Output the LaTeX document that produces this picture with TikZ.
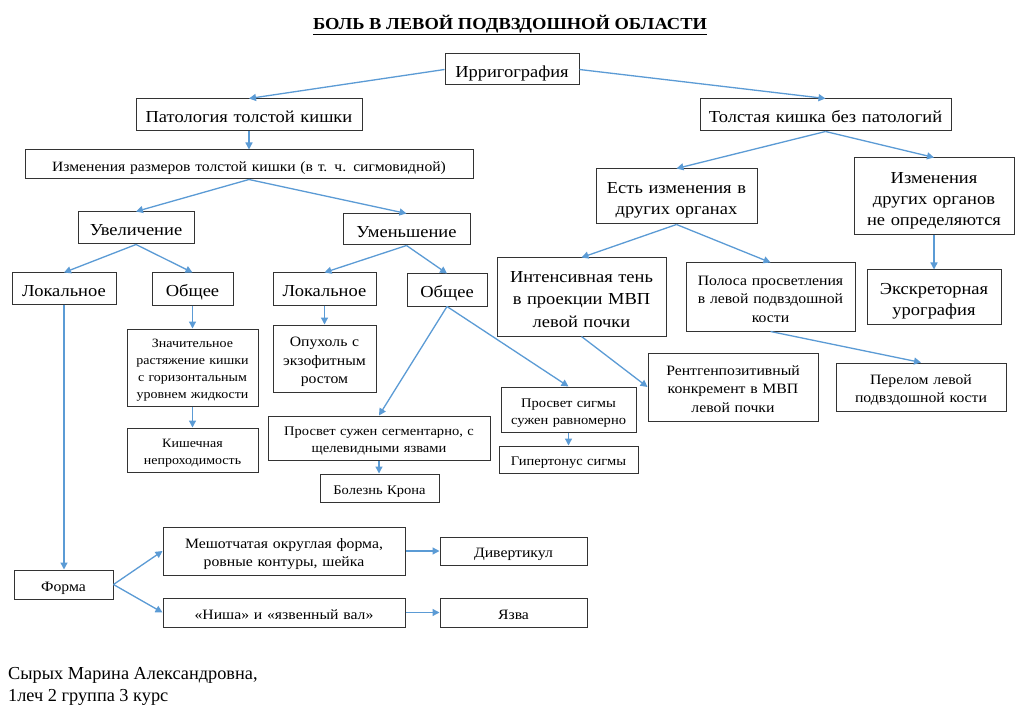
\documentclass[tikz,border=0pt]{standalone}
\usepackage{fontspec}
\setmainfont[FakeStretch=1.1]{Liberation Serif}
\newfontfamily\plainserif{Liberation Serif}
\usetikzlibrary{arrows.meta}
\definecolor{arrblue}{RGB}{91,155,213}
\newcommand{\fbig}{\fontsize{16.8}{21}\selectfont}
\newcommand{\fmid}{\fontsize{14.3}{18.5}\selectfont}
\newcommand{\fsml}{\fontsize{13.2}{17}\selectfont}
\begin{document}
\begin{tikzpicture}[x=1pt,y=-1pt,
	box/.style={draw=black!80,line width=1pt,inner sep=0pt,align=center,fill=white,
		execute at begin node={\rule{0pt}{1.14em}},
		execute at end node={\rule[-0.22em]{0pt}{0pt}}},
	sz/.style 2 args={minimum width=#1,minimum height=#2,text width=#1-8},
	arr/.style={draw=arrblue,line width=1.3pt,-{Triangle[length=7pt,width=7pt]}}]
	\useasboundingbox[fill=white] (0,0) rectangle (1024,708);
	\node[anchor=base] (title) at (510,29.5) {\fontsize{16.8}{20}\selectfont\textbf{\underline{БОЛЬ В ЛЕВОЙ ПОДВЗДОШНОЙ ОБЛАСТИ}}};
	% left branch
	\node[box,sz={134}{31},font=\fbig] (irr) at (512,69.5) {Ирригография};
	\node[box,sz={226}{32},font=\fbig] (pat) at (249,115) {Патология толстой кишки};
	\node[box,sz={448}{29},font=\fontsize{14.2}{17}\selectfont] (izm) at (249,164.5) {Изменения размеров толстой кишки (в т. ч. сигмовидной)};
	\node[box,sz={116}{32},font=\fbig] (uvel) at (136,228) {Увеличение};
	\node[box,sz={127}{31},font=\fbig] (umen) at (406.5,229.5) {Уменьшение};
	\node[box,sz={104}{31},font=\fbig] (lokL) at (64,288.5) {Локальное};
	\node[box,sz={81}{32},font=\fbig] (obL) at (192.5,289) {Общее};
	\node[box,sz={103}{32},font=\fbig] (lokR) at (324.5,289) {Локальное};
	\node[box,sz={80}{32},font=\fbig] (obR) at (447,290) {Общее};
	\node[box,sz={131}{77},font=\fontsize{12.7}{17}\selectfont] (znach) at (192.5,367.5) {Значительное\\растяжение кишки\\с горизонтальным\\уровнем жидкости};
	\node[box,sz={131}{44},font=\fontsize{12.7}{17}\selectfont] (kish) at (192.5,450) {Кишечная\\непроходимость};
	\node[box,sz={103}{67},font=\fmid] (opukh) at (324.5,358.5) {Опухоль с\\экзофитным\\ростом};
	\node[box,sz={222}{44},font=\fsml] (prosS) at (379,438) {Просвет сужен сегментарно, с\\щелевидными язвами};
	\node[box,sz={119}{28},font=\fsml] (krona) at (379.5,488) {Болезнь Крона};
	\node[box,sz={135}{45},font=\fsml] (prSig) at (568.5,409.5) {Просвет сигмы\\сужен равномерно};
	\node[box,sz={139}{27},font=\fsml] (giper) at (568.5,459.5) {Гипертонус сигмы};
	\node[box,sz={99}{29},font=\fmid] (forma) at (63.5,584.5) {Форма};
	\node[box,sz={242}{48},font=\fmid] (mesh) at (284,551) {Мешотчатая округлая форма,\\ровные контуры, шейка};
	\node[box,sz={242}{29},font=\fmid] (nisha) at (284,612.5) {«Ниша» и «язвенный вал»};
	\node[box,sz={147}{28},font=\fmid] (divert) at (513.5,551) {Дивертикул};
	\node[box,sz={147}{29},font=\fmid] (yazva) at (513.5,612.5) {Язва};
	% right branch
	\node[box,sz={251}{32},font=\fbig] (tolst) at (825.5,115) {Толстая кишка без патологий};
	\node[box,sz={161}{55},font=\fbig] (est) at (676.5,196.5) {Есть изменения в\\других органах};
	\node[box,sz={160}{77},font=\fbig] (drug) at (934,196.5) {Изменения\\других органов\\не определяются};
	\node[box,sz={169}{78},font=\fontsize{16.8}{22.5}\selectfont] (inten) at (581.5,297) {Интенсивная тень\\в проекции МВП\\левой почки};
	\node[box,sz={169}{68},font=\fmid] (polosa) at (770.5,297) {Полоса просветления\\в левой подвздошной\\кости};
	\node[box,sz={134}{54},font=\fbig] (eksk) at (934,297) {Экскреторная\\урография};
	\node[box,sz={170}{68},font=\fmid] (rentg) at (733,387) {Рентгенпозитивный\\конкремент в МВП\\левой почки};
	\node[box,sz={170}{48},font=\fmid] (perel) at (921,387) {Перелом левой\\подвздошной кости};
	\node[anchor=north west,align=left,inner sep=0pt,font=\plainserif\fontsize{18.3}{22}\selectfont] (author) at (8,667) {Сырых Марина Александровна,\\1леч 2 группа 3 курс};
	% arrows
	\draw[arr] (irr.west) -- (pat.north);
	\draw[arr] (irr.east) -- (tolst.north);
	\draw[arr] (pat) -- (izm);
	\draw[arr] (izm.south) -- (uvel.north);
	\draw[arr] (izm.south) -- (umen.north);
	\draw[arr] (uvel.south) -- (lokL.north);
	\draw[arr] (uvel.south) -- (obL.north);
	\draw[arr] (umen.south) -- (lokR.north);
	\draw[arr] (umen.south) -- (obR.north);
	\draw[arr] (obL) -- (znach);
	\draw[arr] (znach) -- (kish);
	\draw[arr] (lokR) -- (opukh);
	\draw[arr] (obR.south) -- (prosS.north);
	\draw[arr] (obR.south) -- (prSig.north);
	\draw[arr] (prosS.south) -- (prosS.south |- krona.north);
	\draw[arr] (prSig) -- (giper);
	\draw[arr] (lokL.south) -- (lokL.south |- forma.north);
	\draw[arr] (forma.east) -- (mesh.west);
	\draw[arr] (forma.east) -- (nisha.west);
	\draw[arr] (mesh) -- (divert);
	\draw[arr] (nisha) -- (yazva);
	\draw[arr] (tolst.south) -- (est.north);
	\draw[arr] (tolst.south) -- (drug.north);
	\draw[arr] (est.south) -- (inten.north);
	\draw[arr] (est.south) -- (polosa.north);
	\draw[arr] (drug) -- (eksk);
	\draw[arr] (inten.south) -- (rentg.west);
	\draw[arr] (polosa.south) -- (perel.north);
\end{tikzpicture}
\end{document}
